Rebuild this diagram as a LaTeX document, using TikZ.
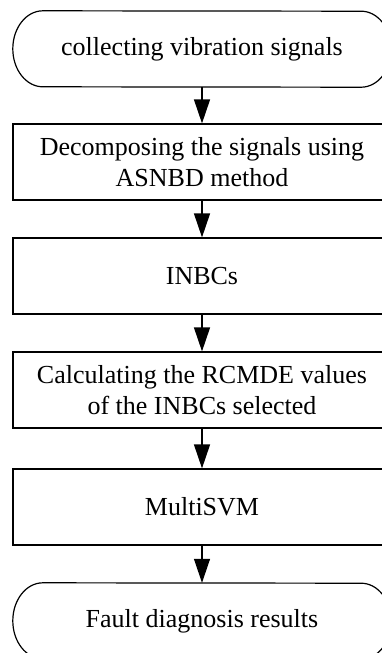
\documentclass[tikz,border=0pt]{standalone}
\usepackage{fontspec}
\setmainfont{Liberation Serif}
\usetikzlibrary{arrows.meta}
\tikzset{
  procbox/.style={draw, line width=1.2pt, minimum width=378pt, minimum height=76pt,
    align=center, inner sep=0pt, font=\fontsize{26}{31}\selectfont},
  termbox/.style={minimum width=378pt, minimum height=76pt,
    align=center, inner sep=0pt, font=\fontsize{26}{31}\selectfont},
  flow/.style={line width=1.2pt, -{Triangle[length=24pt,width=16pt]}},
  termline/.style={line width=1.2pt}
}
\begin{document}
\begin{tikzpicture}
\useasboundingbox (0,0) rectangle (382pt,-653pt);
\clip (0,0) rectangle (382pt,-653pt);
\node[termbox] (t1) at (202pt,-49pt) {collecting vibration signals};
\node[procbox] (r2) at (202pt,-162pt) {Decomposing the signals using\\ASNBD method};
\node[procbox] (r3) at (202pt,-276pt) {INBCs};
\node[procbox] (r4) at (202pt,-390pt) {Calculating the RCMDE values\\of the INBCs selected};
\node[procbox] (r5) at (202pt,-507pt) {MultiSVM};
\node[termbox] (t6) at (202pt,-621pt) {Fault diagnosis results};
\foreach \t in {t1,t6}{
  \draw[termline] ([xshift=30pt]\t.north west) arc[start angle=90,end angle=270,x radius=30pt,y radius=38pt]
    -- ([xshift=-30pt]\t.south east) arc[start angle=-90,end angle=90,x radius=30pt,y radius=38pt] -- cycle;
}
\draw[flow] (t1) -- (r2);
\draw[flow] (r2) -- (r3);
\draw[flow] (r3) -- (r4);
\draw[flow] (r4) -- (r5);
\draw[flow] (r5) -- (t6);
\end{tikzpicture}
\end{document}
